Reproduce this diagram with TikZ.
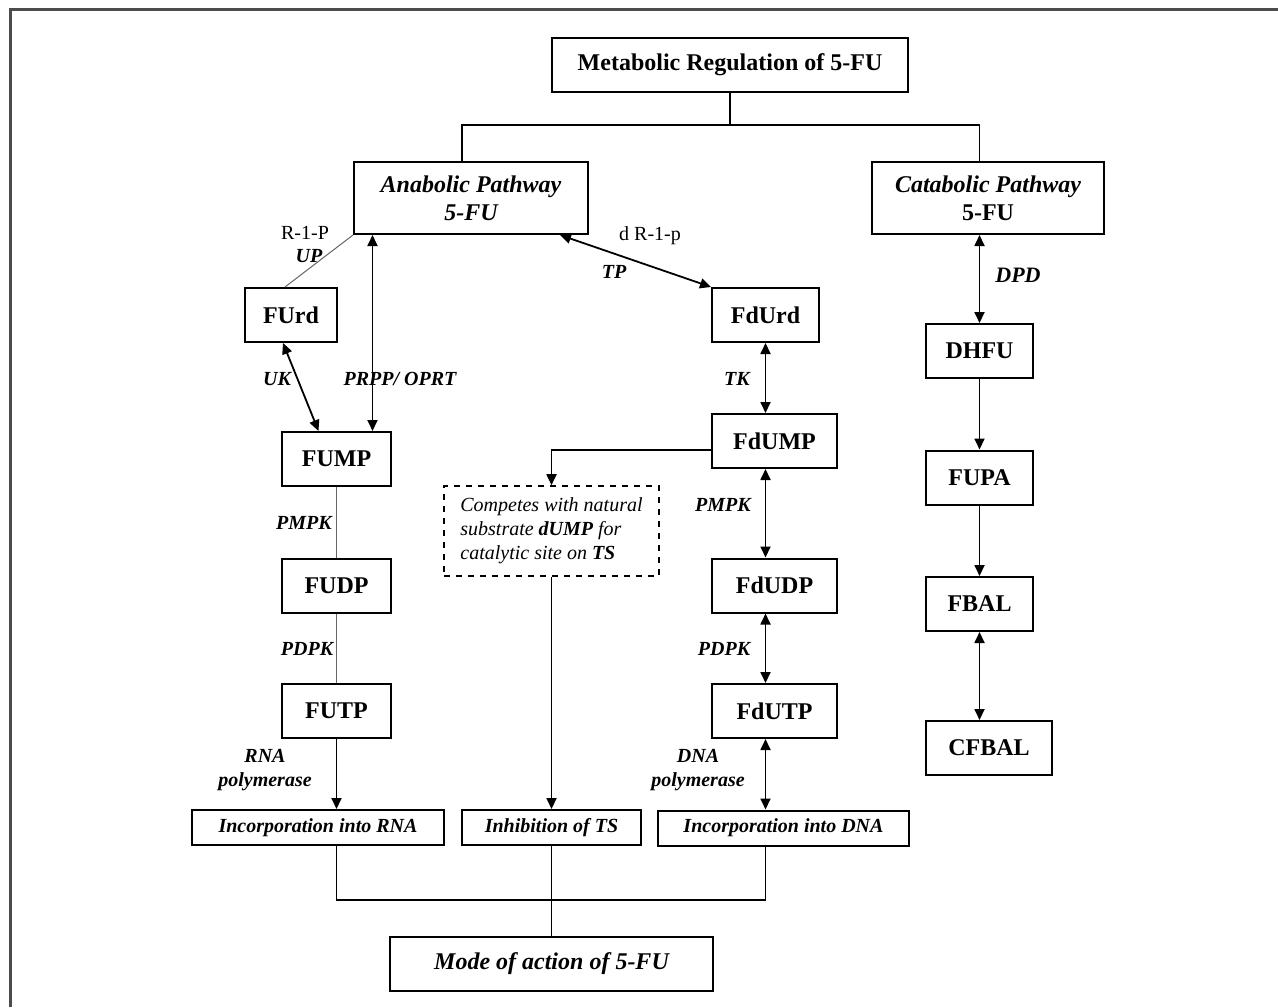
\documentclass[tikz,border=0pt]{standalone}
\usepackage{fontspec}
\setmainfont{Liberation Serif}
\usepackage{tikz}
\usetikzlibrary{arrows.meta}

\begin{document}
\begin{tikzpicture}[
  x=0.5pt,y=-0.5pt,
  box/.style={draw,line width=1pt,align=center,inner sep=2pt,font=\fontsize{12}{14}\selectfont\bfseries,minimum height=27pt},
  cbox/.style={box,minimum width=53.5pt},
  wbox/.style={box,minimum width=62.5pt},
  bbox/.style={box,minimum height=17.5pt,font=\fontsize{10}{12}\selectfont\bfseries\itshape},
  dbox/.style={draw,line width=0.8pt,dashed,align=left,inner sep=2pt,minimum width=107.5pt,minimum height=45pt,font=\fontsize{10}{12}\selectfont\itshape},
  enz/.style={font=\fontsize{10}{12}\selectfont\bfseries\itshape,inner sep=0.5pt},
  sub/.style={font=\fontsize{10}{12}\selectfont,inner sep=0.5pt},
  thin line/.style={gray!80!black,line width=0.5pt},
  link/.style={line width=0.9pt},
  arr/.style={link,-{Triangle[length=5.5pt,width=5pt]}},
  dbl/.style={link,{Triangle[length=5.5pt,width=5pt]}-{Triangle[length=5.5pt,width=5pt]}}
]
\useasboundingbox (0,0) rectangle (1278,1007);
\draw[line width=1.5pt,gray!60!black] (10,1007) -- (10,9) -- (1278,9);

\node[box,minimum width=178pt] (title) at (730,65) {Metabolic Regulation of 5-FU};
\node[box,minimum width=117pt,minimum height=36pt] (anab) at (471,198) {\itshape Anabolic Pathway\\\itshape 5-FU};
\node[box,minimum width=116pt,minimum height=36pt] (catab) at (988,198) {\itshape Catabolic Pathway\\5-FU};

\node[box,minimum width=46pt] (furd) at (291,315) {FUrd};
\node[box,minimum width=54.5pt] (fump) at (336.5,459) {FUMP};
\node[box,minimum width=54.5pt] (fudp) at (336.5,585.5) {FUDP};
\node[box,minimum width=54.5pt] (futp) at (336.5,711) {FUTP};

\node[cbox] (fdurd) at (765.5,315) {FdUrd};
\node[wbox] (fdump) at (774.5,441) {FdUMP};
\node[wbox] (fdudp) at (774.5,585.5) {FdUDP};
\node[wbox] (fdutp) at (774.5,711) {FdUTP};

\node[cbox] (dhfu) at (979.5,351) {DHFU};
\node[cbox] (fupa) at (979.5,477.5) {FUPA};
\node[cbox] (fbal) at (979.5,604) {FBAL};
\node[wbox,minimum width=63pt] (cfbal) at (989,748) {CFBAL};

\node[dbox] (dash) at (551.5,531) {Competes with natural\\substrate \textbf{dUMP} for\\catalytic site on \textbf{TS}};

\node[bbox,minimum width=126pt] (rna) at (318,827.5) {Incorporation into RNA};
\node[bbox,minimum width=89.5pt] (inh) at (551.5,827.5) {Inhibition of TS};
\node[bbox,minimum width=125.5pt] (dna) at (783.5,828) {Incorporation into DNA};
\node[box,minimum width=161.5pt,font=\fontsize{12}{14}\selectfont\bfseries\itshape] (mode) at (551.5,963.5) {Mode of action of 5-FU};

\node[sub] (r1p) at (305,233) {R-1-P};
\node[enz] (up) at (309,256) {UP};
\node[enz] (uk) at (277,379) {UK};
\node[enz] (prpp) at (400,379) {PRPP/ OPRT};
\node[sub] (dr1p) at (650,236) {d R-1-p};
\node[enz] (tp) at (614,272) {TP};
\node[enz] (tk) at (737,379) {TK};
\node[enz,font=\fontsize{11}{13}\selectfont\bfseries\itshape] (dpd) at (1018,275) {DPD};
\node[enz] (pmpk1) at (304,523) {PMPK};
\node[enz] (pdpk1) at (307,649) {PDPK};
\node[enz] (pmpk2) at (723,505) {PMPK};
\node[enz] (pdpk2) at (724,649) {PDPK};
\node[enz,align=center] (rnapol) at (265,770) {RNA\\polymerase};
\node[enz,align=center] (dnapol) at (698,770) {DNA\\polymerase};

\coordinate (hub) at (730,125);
\draw[link] (title.south) -- (hub);
\draw[link] ([xshift=-4.5pt]anab.north) |- (hub) -| (catab.north -| dhfu);

\draw[thin line] (anab.south west) -- ([xshift=-3pt]furd.north);
\coordinate (pr) at ([xshift=18pt]fump.north);
\draw[dbl] (anab.south -| pr) -- (pr);
\draw[dbl] ([xshift=-4pt]furd.south) -- ([xshift=-9pt]fump.north);
\draw[thin line] (fump) -- (fudp);
\draw[thin line] (fudp) -- (futp);
\draw[arr] (futp.south) -- (futp.south |- rna.north);

\draw[dbl] ([xshift=-14.5pt]anab.south east) -- (fdurd.north west);
\draw[dbl] (fdurd.south) -- (fdump.north -| fdurd);
\draw[arr] ([yshift=-4.5pt]fdump.west) -| (dash.north);
\draw[arr] (dash.south) -- (inh.north);
\draw[dbl] (fdump.south -| fdurd) -- (fdudp.north -| fdurd);
\draw[dbl] (fdudp.south -| fdurd) -- (fdutp.north -| fdurd);
\draw[dbl] (fdutp.south -| fdurd) -- (dna.north -| fdurd);

\draw[dbl] (catab.south -| dhfu) -- (dhfu.north);
\draw[arr] (dhfu) -- (fupa);
\draw[arr] (fupa) -- (fbal);
\draw[dbl] (fbal.south) -- (cfbal.north -| fbal);

\draw[link] (rna.south -| futp) -- ++(0,54) -| (dna.south -| fdurd);
\draw[link] (inh.south) -- (mode.north);
\end{tikzpicture}
\end{document}
